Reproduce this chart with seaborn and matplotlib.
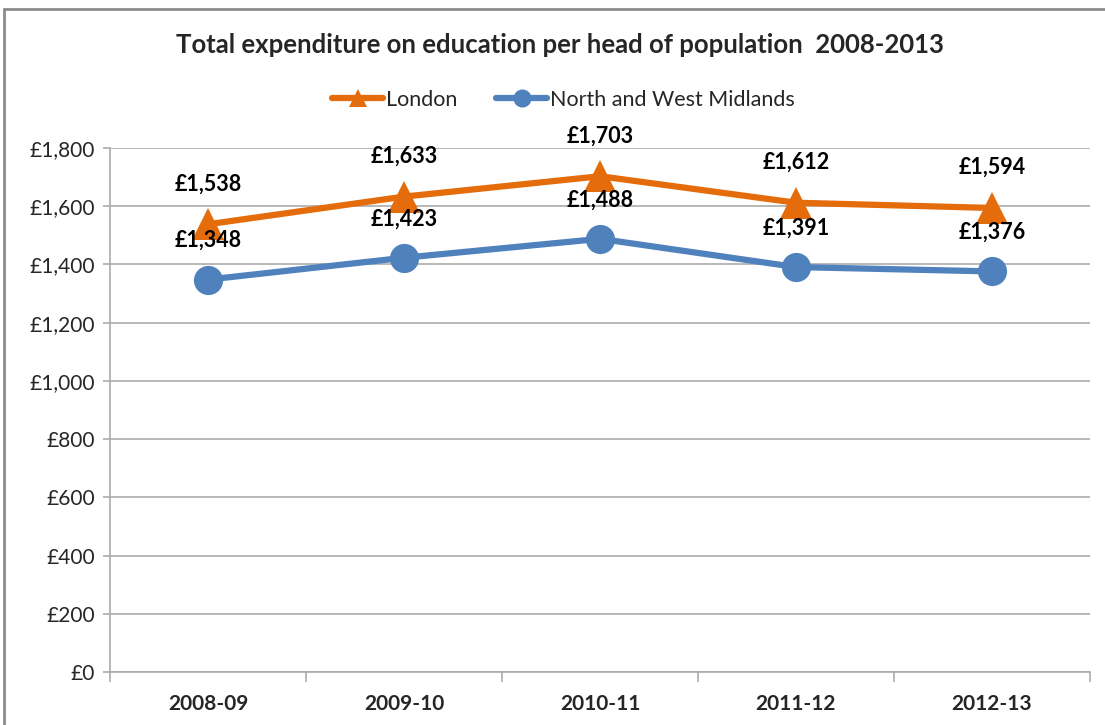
import matplotlib
matplotlib.use("Agg")
import matplotlib.pyplot as plt
import seaborn as sns
import pandas as pd
from matplotlib.ticker import FuncFormatter, FixedLocator, MultipleLocator
from matplotlib.lines import Line2D

years = ["2008-09", "2009-10", "2010-11", "2011-12", "2012-13"]
london = [1538, 1633, 1703, 1612, 1594]
nw_midlands = [1348, 1423, 1488, 1391, 1376]
series_names = ["London", "North and West Midlands"]
title = "Total expenditure on education per head of population  2008-2013"

sns.set_theme(style="white")
plt.rcParams["font.family"] = ["Lato", "DejaVu Sans"]

orange = "#E46C0A"
blue = "#4F81BD"
grid_c = "#ABABAB"

df = pd.DataFrame({
    "year": years * 2,
    "value": london + nw_midlands,
    "series": [series_names[0]] * 5 + [series_names[1]] * 5,
})

fig = plt.figure(figsize=(11.05, 7.25), dpi=100)
ax = fig.add_axes([110/1105, 1 - 672/725, (1090-110)/1105, (672-148)/725])

palette = {series_names[0]: orange, series_names[1]: blue}
markers = {series_names[0]: "^", series_names[1]: "o"}
sizes = {series_names[0]: 23, series_names[1]: 21}
for name in series_names:
    sub = df[df["series"] == name]
    sns.lineplot(data=sub, x="year", y="value", ax=ax, color=palette[name],
                 marker=markers[name], markersize=sizes[name], linewidth=4.5,
                 markeredgewidth=0, legend=False, sort=False, zorder=3)

ax.set_xlim(-0.5, 4.5)
ax.set_ylim(0, 1800)
ax.yaxis.set_major_locator(MultipleLocator(200))
ax.yaxis.set_major_formatter(FuncFormatter(lambda v, p: f"£{int(v):,}"))
ax.grid(axis="y", color=grid_c, linewidth=1.2)
ax.grid(axis="x", visible=False)
ax.set_axisbelow(True)
ax.set_xlabel("")
ax.set_ylabel("")

for s in ["top", "right"]:
    ax.spines[s].set_visible(False)
for s in ["left", "bottom"]:
    ax.spines[s].set_color(grid_c)
    ax.spines[s].set_linewidth(1.2)

ax.xaxis.set_minor_locator(FixedLocator([-0.5, 0.5, 1.5, 2.5, 3.5, 4.5]))
ax.tick_params(axis="x", which="major", length=0, pad=16, labelsize=15)
ax.tick_params(axis="x", which="minor", length=7, color=grid_c, width=1.2, direction="out", bottom=True)
ax.tick_params(axis="y", length=5, color=grid_c, width=1.2, direction="out", left=True, labelsize=15, pad=6, labelcolor="#262626")
for lab in ax.get_xticklabels():
    lab.set_fontweight("bold")

for i, v in enumerate(london):
    ax.annotate(f"£{v:,}", (i, v), xytext=(0, 29), textcoords="offset points",
                ha="center", va="center", fontsize=15.5, fontweight="bold", color="black")
for i, v in enumerate(nw_midlands):
    ax.annotate(f"£{v:,}", (i, v), xytext=(0, 28), textcoords="offset points",
                ha="center", va="center", fontsize=15.5, fontweight="bold", color="black")

fig.text(560/1105, 1 - 45/725, title, ha="center", va="center", fontsize=18.5, fontweight="bold")

handles = [Line2D([0], [0], color=orange, marker="^", markersize=13, linewidth=4.5, markeredgewidth=0),
           Line2D([0], [0], color=blue, marker="o", markersize=13, linewidth=4.5, markeredgewidth=0)]
fig.legend(handles, series_names, loc="center", bbox_to_anchor=(563/1105, 1 - 100/725),
           ncol=2, frameon=False, fontsize=15.5, handlelength=2.4, handletextpad=0.1, columnspacing=1.8)

# chart border
fig.add_artist(Line2D([4/1105, 4/1105], [0, 1 - 9/725], color="#8C8C8C", linewidth=2, transform=fig.transFigure))
fig.add_artist(Line2D([4/1105, 1], [1 - 9/725, 1 - 9/725], color="#8C8C8C", linewidth=2, transform=fig.transFigure))

fig.savefig("out.png", dpi=100)
